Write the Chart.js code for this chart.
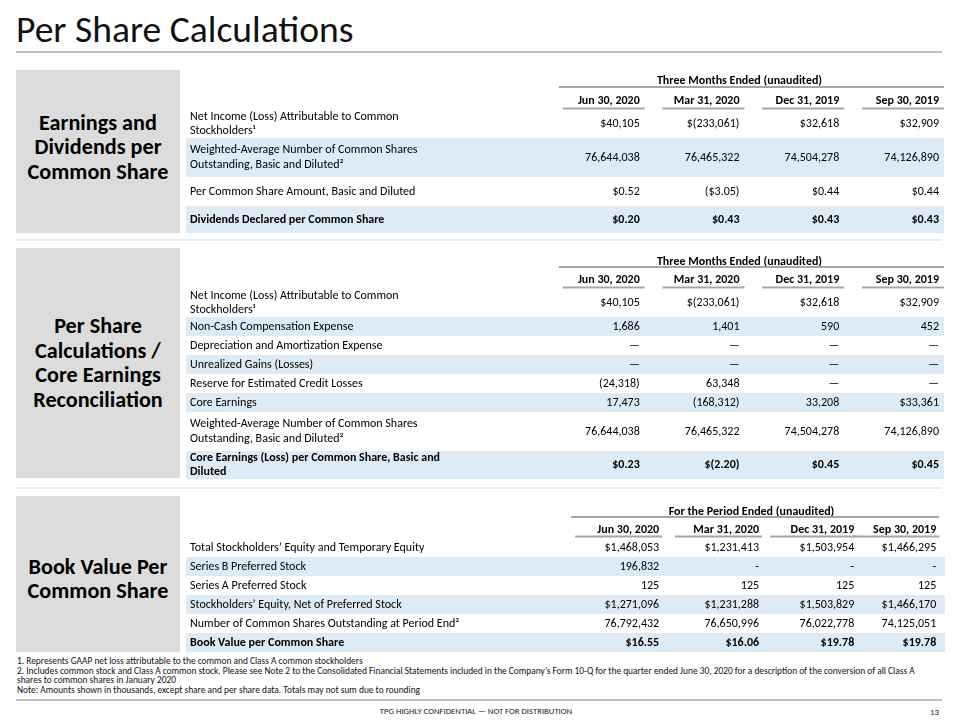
<!DOCTYPE html>
<html><head><meta charset="utf-8">
<script src="https://cdn.jsdelivr.net/npm/chart.js@4.4.1/dist/chart.umd.min.js"></script>
<style>
html,body{margin:0;padding:0;background:#fff;}
body{width:960px;height:720px;position:relative;overflow:hidden;font-family:Carlito,Lato,sans-serif;color:#000;}
.abs{position:absolute;white-space:nowrap;}
#title{left:16px;top:6px;font-size:37.6px;line-height:46px;color:#111;}
.hr{position:absolute;left:16px;width:926px;}
.box{position:absolute;left:16px;width:164px;background:#dcdcdc;display:flex;align-items:center;justify-content:center;text-align:center;font-weight:bold;font-size:22.2px;line-height:24.5px;color:#000;}
canvas{position:absolute;}
#notes{left:17px;top:657px;font-size:9.4px;line-height:9.7px;color:#111;}
#footer{left:0;width:952px;top:706px;text-align:center;font-size:8.7px;color:#222;}
#page{left:930px;top:706px;font-size:9px;color:#222;}
</style></head>
<body>
<div id="title" class="abs">Per Share Calculations</div>
<div class="hr" style="top:51px;height:2px;background:#bfbfbf"></div>

<div class="box" style="top:70px;height:163px;padding-bottom:8px;box-sizing:border-box">Earnings and<br>Dividends per<br>Common Share</div>
<canvas id="t1" width="762" height="165" style="left:184px;top:68px;width:762px;height:165px"></canvas>
<div class="hr" style="top:239px;height:2px;background:#ebebeb"></div>

<div class="box" style="top:248px;height:230px">Per Share<br>Calculations /<br>Core Earnings<br>Reconciliation</div>
<canvas id="t2" width="762" height="231" style="left:184px;top:248px;width:762px;height:231px"></canvas>
<div class="hr" style="top:487px;height:2px;background:#ebebeb"></div>

<div class="box" style="top:496px;height:156px;padding-top:10px;box-sizing:border-box">Book Value Per<br>Common Share</div>
<canvas id="t3" width="762" height="156" style="left:184px;top:496px;width:762px;height:156px"></canvas>

<div id="notes" class="abs">1. Represents GAAP net loss attributable to the common and Class A common stockholders<br>2. Includes common stock and Class A common stock. Please see Note 2 to the Consolidated Financial Statements included in the Company’s Form 10-Q for the quarter ended June 30, 2020 for a description of the conversion of all Class A<br>shares to common shares in January 2020<br>Note: Amounts shown in thousands, except share and per share data. Totals may not sum due to rounding</div>
<div class="hr" style="top:699px;height:2px;background:#bfbfbf"></div>
<div id="footer" class="abs">TPG HIGHLY CONFIDENTIAL — NOT FOR DISTRIBUTION</div>
<div id="page" class="abs">13</div>

<script>
// ---------- DATA ----------
const periods = ['Jun 30, 2020', 'Mar 31, 2020', 'Dec 31, 2019', 'Sep 30, 2019'];

// Earnings and Dividends per Common Share
const t1Title = 'Three Months Ended (unaudited)';
const t1Rows = [
  ['Net Income (Loss) Attributable to Common', 'Stockholders¹'],
  ['Weighted-Average Number of Common Shares', 'Outstanding, Basic and Diluted²'],
  'Per Common Share Amount, Basic and Diluted',
  'Dividends Declared per Common Share'
];
const t1Jun20 = ['$40,105', '76,644,038', '$0.52', '$0.20'];
const t1Mar20 = ['$(233,061)', '76,465,322', '($3.05)', '$0.43'];
const t1Dec19 = ['$32,618', '74,504,278', '$0.44', '$0.43'];
const t1Sep19 = ['$32,909', '74,126,890', '$0.44', '$0.43'];

// Per Share Calculations / Core Earnings Reconciliation
const t2Title = 'Three Months Ended (unaudited)';
const t2Rows = [
  ['Net Income (Loss) Attributable to Common', 'Stockholders¹'],
  'Non-Cash Compensation Expense',
  'Depreciation and Amortization Expense',
  'Unrealized Gains (Losses)',
  'Reserve for Estimated Credit Losses',
  'Core Earnings',
  ['Weighted-Average Number of Common Shares', 'Outstanding, Basic and Diluted²'],
  ['Core Earnings (Loss) per Common Share, Basic and', 'Diluted']
];
const t2Jun20 = ['$40,105', '1,686', '—', '—', '(24,318)', '17,473', '76,644,038', '$0.23'];
const t2Mar20 = ['$(233,061)', '1,401', '—', '—', '63,348', '(168,312)', '76,465,322', '$(2.20)'];
const t2Dec19 = ['$32,618', '590', '—', '—', '—', '33,208', '74,504,278', '$0.45'];
const t2Sep19 = ['$32,909', '452', '—', '—', '—', '$33,361', '74,126,890', '$0.45'];

// Book Value Per Common Share
const t3Title = 'For the Period Ended (unaudited)';
const t3Rows = [
  'Total Stockholders’ Equity and Temporary Equity',
  'Series B Preferred Stock',
  'Series A Preferred Stock',
  'Stockholders’ Equity, Net of Preferred Stock',
  'Number of Common Shares Outstanding at Period End²',
  'Book Value per Common Share'
];
const t3Jun20 = ['$1,468,053', '196,832', '125', '$1,271,096', '76,792,432', '$16.55'];
const t3Mar20 = ['$1,231,413', '-', '125', '$1,231,288', '76,650,996', '$16.06'];
const t3Dec19 = ['$1,503,954', '-', '125', '$1,503,829', '76,022,778', '$19.78'];
const t3Sep19 = ['$1,466,295', '-', '125', '$1,466,170', '74,125,051', '$19.78'];

// ---------- LAYOUT (sizes / styles only) ----------
const FONT = 'Carlito, Lato, sans-serif';
const FS = 12;
const STRIPE = '#ddebf7';
const RULE = '#a6a6a6';
const layouts = {
  t1: { rowH: [28, 39, 29, 27], stripes: [1, 3], bold: [3], axisH: 42, titlePad: 6, tickPad: 2,
        yWidth: 350, padRight: 7, colPos: [1, 2, 3, 4], ul: [-77, 5], groupGap: 23 },
  t2: { rowH: [28, 19, 19, 19, 19, 19, 39, 28], stripes: [1, 3, 5, 7], bold: [7], axisH: 41, titlePad: 7, tickPad: 2,
        yWidth: 350, padRight: 7, colPos: [1, 2, 3, 4], ul: [-77, 5], groupGap: 22 },
  t3: { rowH: [19, 19, 19, 19, 19, 19], stripes: [1, 3, 5], bold: [5], axisH: 42, titlePad: 9, tickPad: 1,
        yWidth: 373, padRight: 6, colPos: [1.02, 2.08, 3.09, 3.96], ul: [-84, 3], groupGap: 21 }
};

function font(weight, size) { return { family: FONT, size: size || FS, weight: weight, lineHeight: 1.22 }; }

const tablePlugin = {
  id: 'tablePlugin',
  beforeDraw(chart) {
    const L = chart.options.plugins.tablePlugin;
    const { ctx, chartArea } = chart;
    const ys = chart.scales.y;
    ctx.save();
    ctx.fillStyle = STRIPE;
    L.stripes.forEach(i => {
      const t = ys.getPixelForValue(L.bounds[i]);
      const b = ys.getPixelForValue(L.bounds[i + 1]);
      ctx.fillRect(ys.left - 4, t, chartArea.right + 5 - (ys.left - 4), b - t);
    });
    ctx.restore();
  },
  afterDatasetsDraw(chart) {
    const L = chart.options.plugins.tablePlugin;
    const { ctx } = chart;
    ctx.save();
    ctx.textAlign = 'right';
    ctx.textBaseline = 'middle';
    ctx.fillStyle = '#000';
    chart.data.datasets.forEach((ds, c) => {
      const meta = chart.getDatasetMeta(c);
      meta.data.forEach((pt, r) => {
        const bold = L.bold.includes(r);
        ctx.font = (bold ? 'bold ' : '') + FS + 'px ' + FONT;
        ctx.fillText(ds.cells[r], pt.x, pt.y);
      });
    });
    ctx.restore();
  },
  afterDraw(chart) {
    const L = chart.options.plugins.tablePlugin;
    const { ctx, chartArea } = chart;
    const xs = chart.scales.x;
    ctx.save();
    ctx.strokeStyle = RULE;
    ctx.lineWidth = 2;
    const first = xs.getPixelForValue(L.colPos[0]) + L.ul[0] - 4;
    const last = xs.getPixelForValue(L.colPos[L.colPos.length - 1]) + L.ul[1];
    ctx.beginPath();
    ctx.moveTo(first, chartArea.top - L.groupGap);
    ctx.lineTo(last, chartArea.top - L.groupGap);
    ctx.stroke();
    L.colPos.forEach(p => {
      const px = xs.getPixelForValue(p);
      ctx.beginPath();
      ctx.moveTo(px + L.ul[0], chartArea.top - 1.5);
      ctx.lineTo(px + L.ul[1], chartArea.top - 1.5);
      ctx.stroke();
    });
    ctx.restore();
  }
};

function makeTable(id, title, rows, cols, L) {
  const bounds = [0];
  L.rowH.forEach(h => bounds.push(bounds[bounds.length - 1] + h));
  const centers = L.rowH.map((h, i) => bounds[i] + h / 2);
  const total = bounds[bounds.length - 1];
  const near = (a, b) => Math.abs(a - b) < 1e-6;
  const datasets = cols.map((cells, c) => ({
    label: periods[c],
    cells: cells,
    data: cells.map((v, r) => ({ x: L.colPos[c], y: centers[r] })),
    pointRadius: 0, pointHoverRadius: 0, showLine: false
  }));
  new Chart(document.getElementById(id), {
    type: 'scatter',
    data: { datasets },
    plugins: [tablePlugin],
    options: {
      responsive: false, animation: false, devicePixelRatio: 1,
      events: [],
      layout: { padding: { left: 6, right: L.padRight, top: 0, bottom: 0 } },
      plugins: {
        legend: { display: false }, tooltip: { enabled: false },
        tablePlugin: Object.assign({ bounds }, L)
      },
      scales: {
        x: {
          type: 'linear', position: 'top', min: 0, max: 4,
          afterBuildTicks: s => { s.ticks = L.colPos.map(v => ({ value: v })); },
          afterFit: s => { s.height = L.axisH; s.paddingLeft = 0; s.paddingRight = 0; },
          ticks: {
            align: 'end', padding: L.tickPad, autoSkip: false, maxRotation: 0, minRotation: 0,
            color: '#000', font: font('bold'),
            callback: v => periods[L.colPos.findIndex(p => near(p, v))]
          },
          grid: { display: false, drawTicks: false }, border: { display: false },
          title: { display: true, text: title, color: '#000', font: font('bold'), padding: { top: L.titlePad, bottom: 0 } }
        },
        y: {
          type: 'linear', reverse: true, min: 0, max: total,
          afterBuildTicks: s => { s.ticks = centers.map(v => ({ value: v })); },
          afterFit: s => { s.width = L.yWidth; s.paddingTop = 0; s.paddingBottom = 0; },
          ticks: {
            crossAlign: 'far', padding: 0, autoSkip: false, color: '#000',
            font: ctx => {
              const r = centers.findIndex(c => near(c, ctx.tick ? ctx.tick.value : -1));
              return font(L.bold.includes(r) ? 'bold' : 'normal');
            },
            callback: v => rows[centers.findIndex(c => near(c, v))]
          },
          grid: { display: false, drawTicks: false }, border: { display: false }
        }
      }
    }
  });
}

makeTable('t1', t1Title, t1Rows, [t1Jun20, t1Mar20, t1Dec19, t1Sep19], layouts.t1);
makeTable('t2', t2Title, t2Rows, [t2Jun20, t2Mar20, t2Dec19, t2Sep19], layouts.t2);
makeTable('t3', t3Title, t3Rows, [t3Jun20, t3Mar20, t3Dec19, t3Sep19], layouts.t3);
</script>
</body></html>
